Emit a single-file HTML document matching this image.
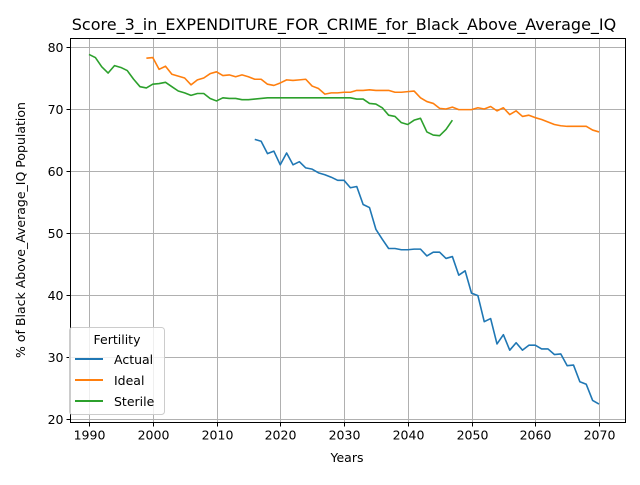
<!DOCTYPE html>
<html><head><meta charset="utf-8"><style>
body{margin:0;background:#fff;font-family:"Liberation Sans","DejaVu Sans",sans-serif;}
svg text{font-family:"DejaVu Sans","Liberation Sans",sans-serif;}
</style></head><body>
<svg id="chart" width="640" height="480" xmlns="http://www.w3.org/2000/svg">
<rect width="640" height="480" fill="#fff"/>
<g id="grid"></g><g id="series"></g><g id="axes"></g>
<text x="344" y="30" font-size="16" text-anchor="middle">Score_3_in_EXPENDITURE_FOR_CRIME_for_Black_Above_Average_IQ</text>
<text x="347" y="462" font-size="12.5" text-anchor="middle">Years</text>
<text x="0" y="0" font-size="12.5" text-anchor="middle" transform="translate(25,230) rotate(-90)">% of Black Above_Average_IQ Population</text>
<g id="legend">
<rect x="69.5" y="327.5" width="95" height="87" rx="3" fill="#fff" fill-opacity="0.8" stroke="#ccc"/>
<text x="117" y="344" font-size="12.5" text-anchor="middle">Fertility</text>
<g><line x1="75" x2="103" y1="359" y2="359" stroke="#1f77b4" stroke-width="2"/><text x="114" y="364" font-size="12.5">Actual</text></g>
<g><line x1="75" x2="103" y1="380" y2="380" stroke="#ff7f0e" stroke-width="2"/><text x="114" y="385" font-size="12.5">Ideal</text></g>
<g><line x1="75" x2="103" y1="401" y2="401" stroke="#2ca02c" stroke-width="2"/><text x="114" y="406" font-size="12.5">Sterile</text></g>
</g>
</svg>
<script>
const xTicks=[1990,2000,2010,2020,2030,2040,2050,2060,2070];
const yTicks=[20,30,40,50,60,70,80];
const actualStart=2016;
const actualValues=[65.1,64.8,62.8,63.2,61.0,62.9,61.0,61.5,60.5,60.3,59.7,59.4,59.0,58.5,58.5,57.3,57.5,54.6,54.1,50.6,49.0,47.5,47.5,47.3,47.3,47.4,47.4,46.3,46.9,46.9,45.9,46.2,43.2,43.9,40.3,39.9,35.7,36.2,32.1,33.6,31.1,32.3,31.1,31.9,31.9,31.3,31.3,30.4,30.5,28.6,28.7,26.0,25.6,23.0,22.4];
const idealStart=1999;
const idealValues=[78.2,78.3,76.4,76.9,75.6,75.3,75.0,73.9,74.7,75.0,75.7,76.0,75.4,75.5,75.2,75.5,75.2,74.8,74.8,74.0,73.8,74.2,74.7,74.6,74.7,74.8,73.7,73.3,72.4,72.6,72.6,72.7,72.7,73.0,73.0,73.1,73.0,73.0,73.0,72.7,72.7,72.8,72.9,71.8,71.2,70.9,70.1,70.0,70.3,69.9,69.9,69.9,70.2,70.0,70.4,69.7,70.2,69.1,69.7,68.8,69.0,68.6,68.3,67.9,67.5,67.3,67.2,67.2,67.2,67.2,66.6,66.3];
const sterileStart=1990;
const sterileValues=[78.8,78.3,76.8,75.8,77.0,76.7,76.2,74.8,73.6,73.4,74.0,74.1,74.3,73.6,72.9,72.6,72.2,72.5,72.5,71.7,71.3,71.8,71.7,71.7,71.5,71.5,71.6,71.7,71.8,71.8,71.8,71.8,71.8,71.8,71.8,71.8,71.8,71.8,71.8,71.8,71.8,71.8,71.6,71.6,70.9,70.8,70.2,69.0,68.8,67.8,67.5,68.2,68.5,66.3,65.8,65.7,66.7,68.2];
const NS="http://www.w3.org/2000/svg";
const L=70.5,R=625.5,T=38.5,B=422.5;
const xs=v=>89+(v-1990)*510/80;
const ys=v=>419-(v-20)*372/60;
function mk(tag,attrs,parent){const e=document.createElementNS(NS,tag);for(const k in attrs)e.setAttribute(k,attrs[k]);parent.appendChild(e);return e;}
const grid=document.getElementById('grid'),axes=document.getElementById('axes'),series=document.getElementById('series');
xTicks.forEach(t=>{const x=Math.round(xs(t))+0.5;
 const g=mk('line',{x1:x,x2:x,y1:T,y2:B,stroke:'#b0b0b0','stroke-width':1},grid);
 
 
 mk('line',{x1:x,x2:x,y1:B,y2:B+4,stroke:'#000'},axes);
 const tx=mk('text',{x:x,y:B+17,'font-size':12.5,'text-anchor':'middle'},axes);tx.textContent=t;
 
 
});
yTicks.forEach(t=>{const y=Math.round(ys(t))+0.5;
 const g=mk('line',{x1:L,x2:R,y1:y,y2:y,stroke:'#b0b0b0','stroke-width':1},grid);
 
 
 mk('line',{x1:L-4,x2:L,y1:y,y2:y,stroke:'#000'},axes);
 const tx=mk('text',{x:L-7,y:y+4.5,'font-size':12.5,'text-anchor':'end'},axes);tx.textContent=t;
 
 
});
const frame=mk('rect',{x:L,y:T,width:R-L,height:B-T,fill:'none',stroke:'#000','stroke-width':1},axes);


function line(start,vals,color,name){
 const p=vals.map((v,i)=>xs(start+i).toFixed(2)+','+ys(v).toFixed(2)).join(' ');
 const e=mk('polyline',{points:p,fill:'none',stroke:color,'stroke-width':1.6,'stroke-linejoin':'round'},series);
 
 
}
line(actualStart,actualValues,'#1f77b4','actual-line');
line(idealStart,idealValues,'#ff7f0e','ideal-line');
line(sterileStart,sterileValues,'#2ca02c','sterile-line');
</script>
</body></html>
